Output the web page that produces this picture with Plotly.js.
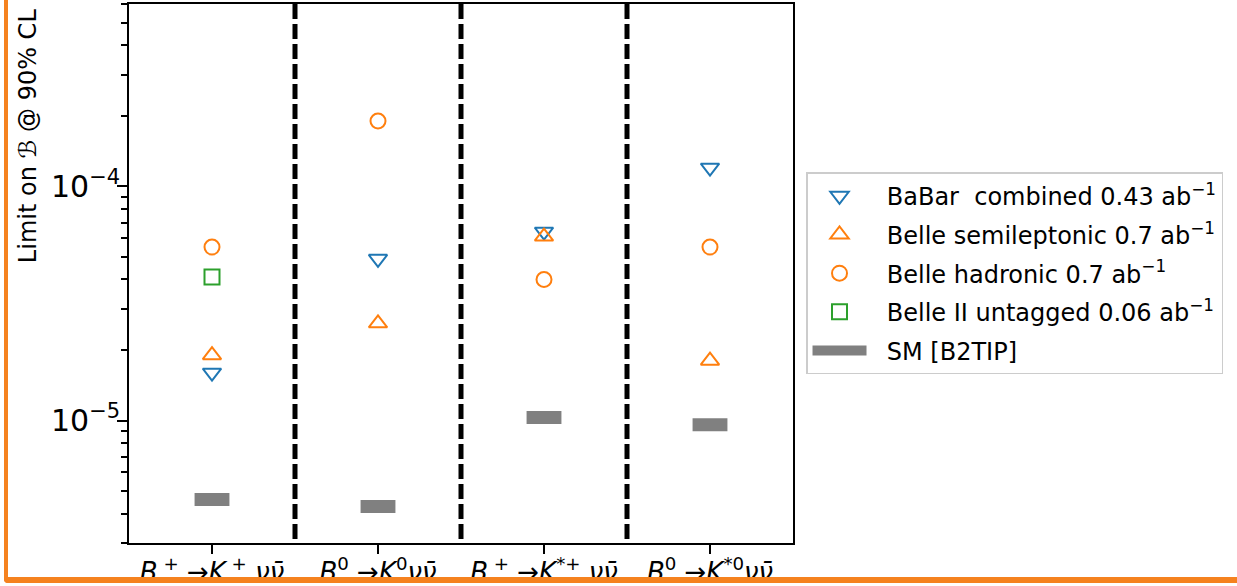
<!DOCTYPE html>
<html>
<head>
<meta charset="utf-8">
<script src="https://cdn.plot.ly/plotly-3.0.1.min.js"></script>
<style>
  html, body { margin: 0; padding: 0; background: #fff; overflow: hidden; }
  #chart { width: 1237px; height: 586px; }
  #frame {
    position: absolute; left: 4px; top: 0; width: 1300px; height: 583px;
    box-sizing: border-box; border-left: 4px solid #f5821f; border-bottom: 6px solid #f5821f;
    border-bottom-left-radius: 4px; pointer-events: none;
  }
</style>
</head>
<body>
<div id="chart"></div>
<div id="frame"></div>
<script>
// Decay channels (x axis)
const decays = [
  '<i>B</i><sup> +</sup> →<i>K</i><sup> +</sup> <i>νν\u0304</i>',
  '<i>B</i><sup>0</sup> →<i>K</i><sup>0</sup><i>νν\u0304</i>',
  '<i>B</i><sup> +</sup> →<i>K</i><sup>*+</sup> <i>νν\u0304</i>',
  '<i>B</i><sup>0</sup> →<i>K</i><sup>*0</sup><i>νν\u0304</i>'
];

// Upper limits on the branching fraction at 90% CL
const babarCombined   = [1.6e-5, 4.9e-5, 6.4e-5, 1.2e-4];
const belleSemilep    = [1.9e-5, 2.6e-5, 6.1e-5, 1.8e-5];
const belleHadronic   = [5.5e-5, 1.9e-4, 4.0e-5, 5.5e-5];
const belle2Untagged  = [4.1e-5, null, null, null];

// Standard Model predictions
const smPrediction    = [4.6e-6, 4.3e-6, 1.03e-5, 9.6e-6];

// Legend labels
const seriesNames = [
  'BaBar\u00a0 combined 0.43 ab<sup>−1</sup>',
  'Belle semileptonic 0.7 ab<sup>−1</sup>',
  'Belle hadronic 0.7 ab<sup>−1</sup>',
  'Belle II untagged 0.06 ab<sup>−1</sup>',
  'SM [B2TIP]'
];

const FONT = 'DejaVu Sans, Verdana, sans-serif';
const xIdx = decays.map((_, i) => i);
const smHalfWidth = 0.105;
const legendIndent = '\u00a0\u00a0';

function limitTrace(name, values, symbol, color) {
  return {
    type: 'scatter', mode: 'markers', name: legendIndent + name, legendgroup: name,
    x: xIdx, y: values,
    marker: { symbol: symbol, size: symbol.startsWith('triangle') ? 16 : 15,
              color: color, line: { width: 2, color: color } },
    hoverinfo: 'skip'
  };
}

const smTrace = {
  type: 'scatter', mode: 'lines', name: legendIndent + seriesNames[4], legendgroup: 'sm',
  x: xIdx.flatMap(i => [i - smHalfWidth, i + smHalfWidth, null]),
  y: smPrediction.flatMap(v => [v, v, null]),
  line: { color: '#808080', width: 13 },
  hoverinfo: 'skip'
};

const traces = [
  limitTrace(seriesNames[0], babarCombined,  'triangle-down-open', '#1f77b4'),
  limitTrace(seriesNames[1], belleSemilep,   'triangle-up-open',   '#ff7f0e'),
  limitTrace(seriesNames[2], belleHadronic,  'circle-open',        '#ff7f0e'),
  limitTrace(seriesNames[3], belle2Untagged, 'square-open',        '#2ca02c'),
  smTrace
];

// Dashed separators between decay channels
const separators = xIdx.slice(0, -1).map(i => ({
  type: 'line', xref: 'x', yref: 'paper',
  x0: i + 0.5, x1: i + 0.5, y0: 1, y1: 0,
  line: { color: 'black', width: 5, dash: '15px,5px' }
}));

const layout = {
  width: 1237, height: 586,
  margin: { l: 129, r: 444, t: 4, b: 43 },
  paper_bgcolor: 'white', plot_bgcolor: 'white',
  font: { family: FONT, size: 24, color: 'black' },
  showlegend: true,
  xaxis: {
    range: [-0.5, decays.length - 0.5],
    tickvals: xIdx, ticktext: decays,
    ticks: 'outside', ticklen: 9, tickwidth: 2, tickcolor: 'black',
    ticklabelstandoff: -4,
    showline: true, linewidth: 2, linecolor: 'black', mirror: true,
    showgrid: false, zeroline: false,
    tickfont: { family: FONT, size: 26, color: 'black' }
  },
  yaxis: {
    type: 'log',
    range: [Math.log10(3e-6), Math.log10(6e-4)],
    dtick: 1, exponentformat: 'power', showexponent: 'all',
    ticks: 'outside', ticklen: 10, tickwidth: 2, tickcolor: 'black',
    ticklabelstandoff: -8,
    minor: { ticks: 'outside', ticklen: 6, tickwidth: 2, tickcolor: 'black', dtick: 'D1', showgrid: false },
    showline: true, linewidth: 2, linecolor: 'black', mirror: true,
    showgrid: false, zeroline: false,
    tickfont: { family: FONT, size: 24, color: 'black' }
  },
  legend: {
    x: 1.0196, y: 0.688, xanchor: 'left', yanchor: 'top',
    bgcolor: 'white', bordercolor: '#cccccc', borderwidth: 1.5,
    font: { family: FONT, size: 24, color: 'black' },
    itemwidth: 54, tracegroupgap: 4.5, traceorder: 'grouped'
  },
  shapes: separators,
  annotations: [{
    text: 'Limit on ℬ @ 90% CL', textangle: -90,
    xref: 'paper', yref: 'paper', x: -0.152, y: 0.755,
    xanchor: 'center', yanchor: 'middle', showarrow: false,
    font: { family: FONT, size: 24, color: 'black' }
  }]
};

Plotly.newPlot('chart', traces, layout, { staticPlot: true });
</script>
</body>
</html>
